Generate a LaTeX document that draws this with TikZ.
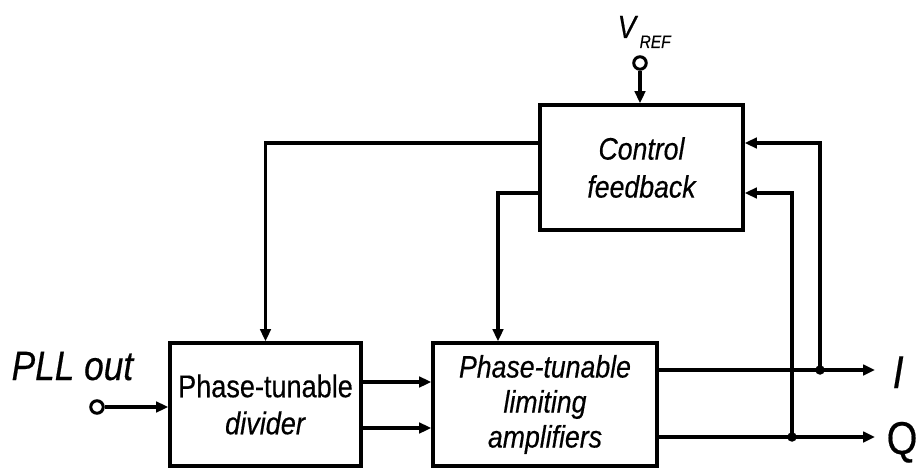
\documentclass[tikz,border=0pt]{standalone}
\usepackage{fontspec}
\setmainfont{Liberation Sans}[FakeStretch=0.86,FakeBold=0.4]
\usetikzlibrary{arrows.meta}
\begin{document}
\begin{tikzpicture}[x=1pt,y=-1pt, line width=3.3pt,
  blk/.style={draw, line width=3.6pt, inner sep=0pt, align=center, font=\fontsize{31.5}{37}\selectfont},
  arr/.style={-{Triangle[length=12pt,width=10.5pt]}},
  jdot/.style={circle, fill, inner sep=0pt, minimum size=9.5pt},
  term/.style={circle, draw, line width=3pt, inner sep=0pt, minimum size=12.5pt, fill=white},
  lbl/.style={anchor=base west, inner sep=0pt}]
\useasboundingbox (0,0) rectangle (916,468);
% blocks
\node[blk, minimum width=191pt, minimum height=123pt] (div) at (265.5,404.5) {Phase-tunable\\\textit{divider}};
\node[blk, minimum width=224pt, minimum height=123pt, font=\fontsize{31}{35}\selectfont\itshape] (amp) at (545,404.5) {Phase-tunable\\limiting\\amplifiers};
\node[blk, minimum width=203pt, minimum height=125pt, font=\fontsize{31}{38}\selectfont\itshape] (ctrl) at (641.5,167.5) {Control\\feedback};
% terminals and junctions
\node[term] (pll) at (97,407) {};
\node[term] (vref) at (640,63) {};
\coordinate (Iend) at (875,370);
\coordinate (Qend) at (875,437);
\node[jdot] (jI) at (820,370) {};
\node[jdot] (jQ) at (792,437) {};
% labels
\node[lbl, font=\fontsize{41}{41}\selectfont\itshape] (pllt) at (10,380) {PLL out};
\node[lbl, font=\fontsize{46}{46}\selectfont\itshape] (Ilab) at (891,388) {I};
\node[lbl, font=\fontsize{46}{46}\selectfont] (Qlab) at (885,454) {Q};
\node[lbl, font=\fontsize{32}{32}\selectfont\itshape] (vt) at (616,38) {V};
\node[lbl, font=\fontsize{18}{18}\selectfont\itshape] (vsub) at (638,48) {REF};
% connectors
\draw[arr] (pll.east) -- (pll.east -| div.west);
\draw[arr] (vref.south) -- (vref.south |- ctrl.north);
\draw[arr] ([yshift=22.5pt]div.east) -- ([yshift=22.5pt]amp.west);
\draw[arr] ([yshift=-23.5pt]div.east) -- ([yshift=-23.5pt]amp.west);
\draw[arr] ([yshift=34.5pt]amp.east) -- (Iend);
\draw[arr] ([yshift=-32.5pt]amp.east) -- (Qend);
\draw[arr] (jI.center) |- ([yshift=24.5pt]ctrl.east);
\draw[arr] (jQ.center) |- ([yshift=-25.5pt]ctrl.east);
\draw[arr] ([yshift=24.5pt]ctrl.west) -| (div.north);
\draw[arr] ([yshift=-25.5pt]ctrl.west) -| ([xshift=-47pt]amp.north);
\end{tikzpicture}
\end{document}
